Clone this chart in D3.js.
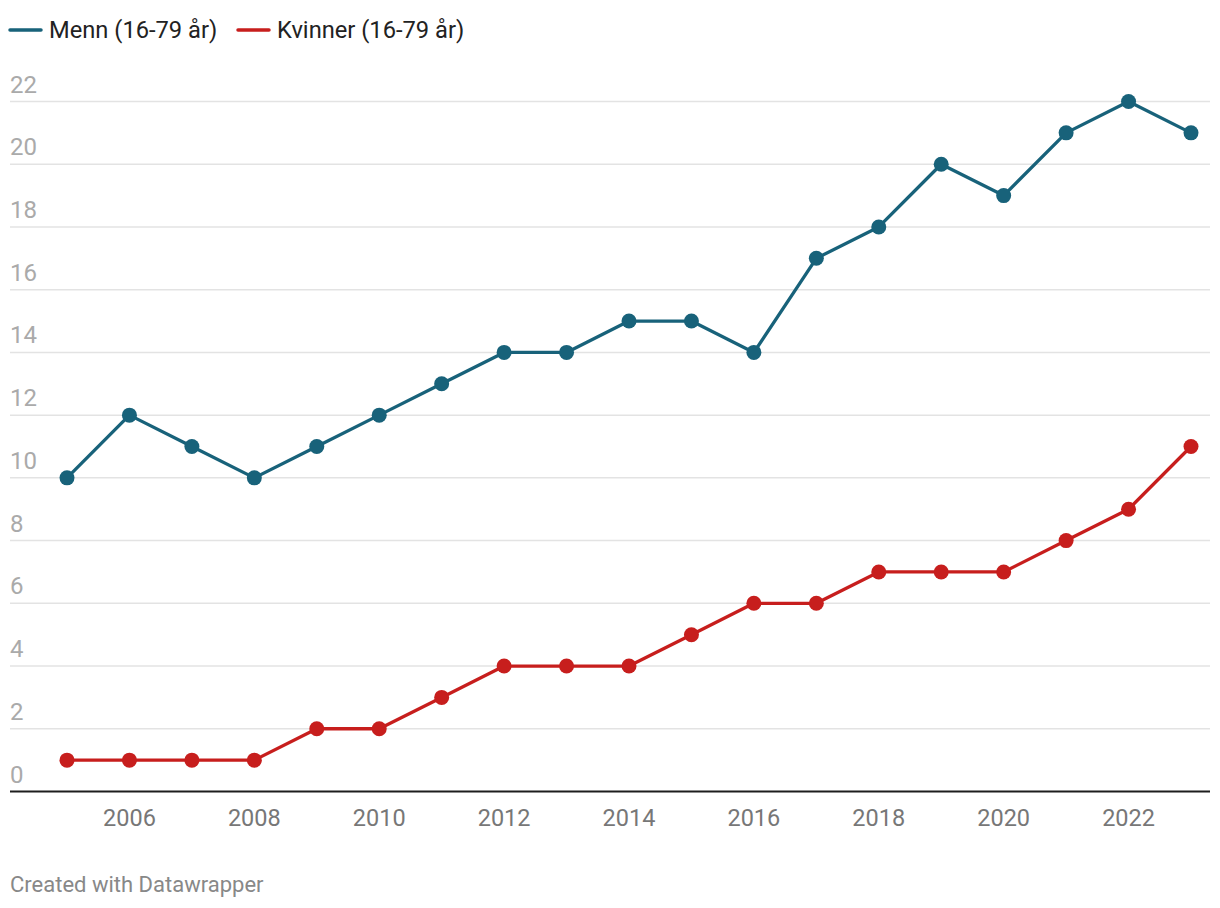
<!DOCTYPE html>
<html><head><meta charset="utf-8">
<script src="https://cdn.jsdelivr.net/npm/d3@7"></script>
<style>body{margin:0;background:#fff;font-family:Roboto,sans-serif}</style>
</head><body>
<svg id="c" width="1220" height="908"></svg>
<script>
const years = [2005,2006,2007,2008,2009,2010,2011,2012,2013,2014,2015,2016,2017,2018,2019,2020,2021,2022,2023];
const menn = [10,12,11,10,11,12,13,14,14,15,15,14,17,18,20,19,21,22,21];
const kvinner = [1,1,1,1,2,2,3,4,4,4,5,6,6,7,7,7,8,9,11];
const yTicks = [0,2,4,6,8,10,12,14,16,18,20,22];
const xTicks = [2006,2008,2010,2012,2014,2016,2018,2020,2022];
const seriesNames = ["Menn (16-79 år)","Kvinner (16-79 år)"];
const colors = ["#18627a","#c71e1d"];

const svg = d3.select("#c");
const x = d3.scaleLinear().domain([2005,2023]).range([67,1191]);
const y = d3.scaleLinear().domain([0,22]).range([791.5,101.5]);

svg.append("g").selectAll("line").data(yTicks.filter(d=>d>0)).join("line")
  .attr("x1",10).attr("x2",1210).attr("y1",d=>y(d)).attr("y2",d=>y(d))
  .attr("stroke","#e3e3e3").attr("stroke-width",1.5);
svg.append("g").selectAll("text").data(yTicks).join("text")
  .attr("x",10).attr("y",d=>y(d)-9).text(d=>d)
  .attr("font-size",24).attr("fill","#aaaaaa");
svg.append("line").attr("x1",10).attr("x2",1210).attr("y1",y(0)).attr("y2",y(0))
  .attr("stroke","#1d1d1d").attr("stroke-width",2);
svg.append("g").selectAll("text").data(xTicks).join("text")
  .attr("x",d=>x(d)).attr("y",826).attr("text-anchor","middle").text(d=>d)
  .attr("font-size",23.5).attr("fill","#777");

const line = d3.line().x((d,i)=>x(years[i])).y(d=>y(d));
[menn,kvinner].forEach((s,k)=>{
  svg.append("path").attr("d",line(s)).attr("fill","none")
    .attr("stroke",colors[k]).attr("stroke-width",3.3).attr("stroke-linejoin","round");
  svg.append("g").selectAll("circle").data(s).join("circle")
    .attr("cx",(d,i)=>x(years[i])).attr("cy",d=>y(d)).attr("r",7.5).attr("fill",colors[k]);
});

const lg = svg.append("g");
const lx = [10,238];
seriesNames.forEach((n,k)=>{
  lg.append("line").attr("x1",lx[k]).attr("x2",lx[k]+31).attr("y1",30).attr("y2",30)
    .attr("stroke",colors[k]).attr("stroke-width",3.5).attr("stroke-linecap","round");
  lg.append("text").attr("x",lx[k]+39).attr("y",38).text(n)
    .attr("font-size",23.7).attr("fill","#222");
});
svg.append("text").attr("x",10).attr("y",892).text("Created with Datawrapper")
  .attr("font-size",22).attr("fill","#888");
</script>
</body></html>
